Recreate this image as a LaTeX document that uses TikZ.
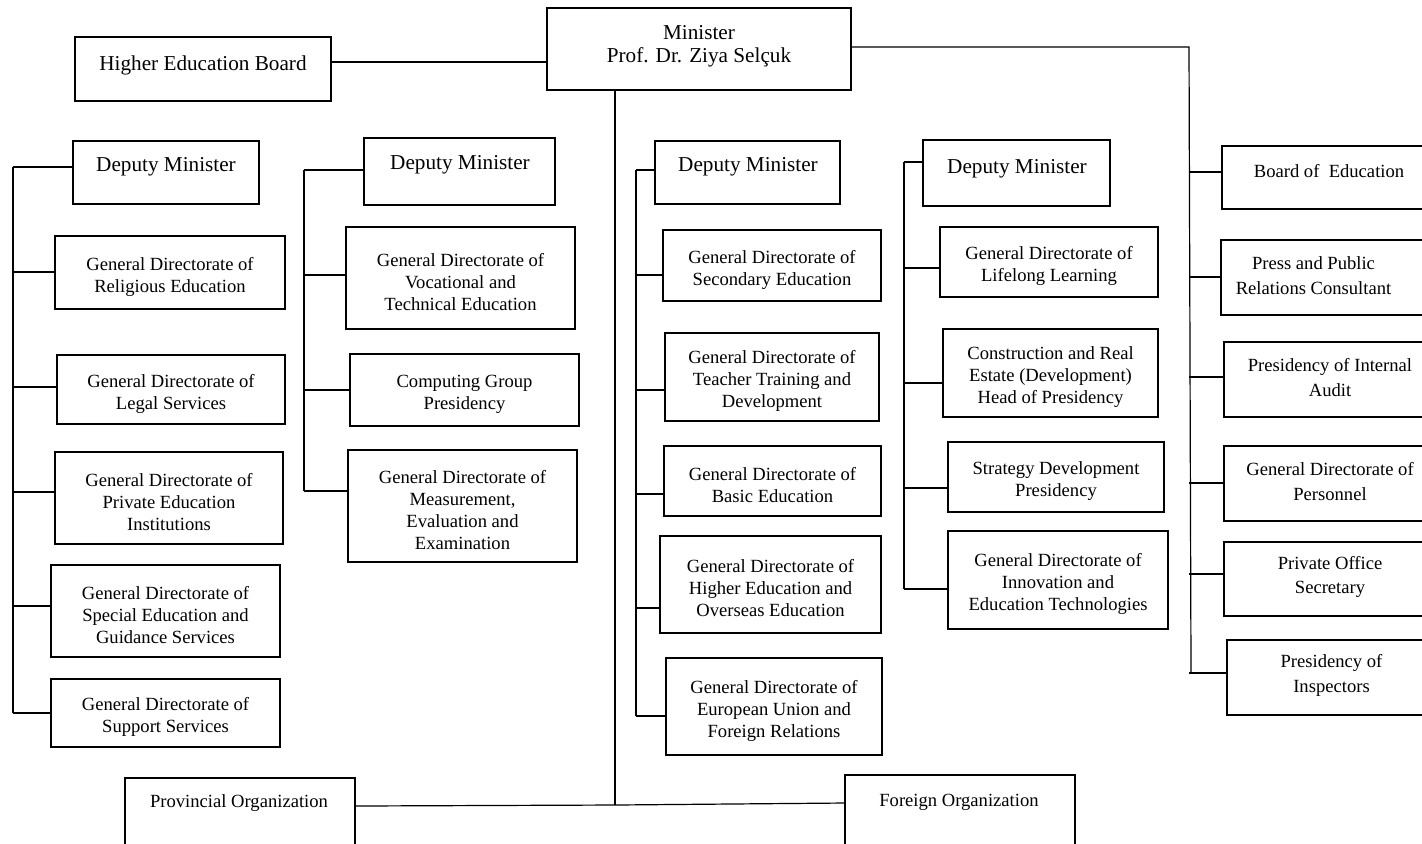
\documentclass[tikz,border=0pt]{standalone}
\usepackage{fontspec}
\setmainfont{Liberation Serif}
\usetikzlibrary{fit}
\newcommand{\gdfont}{\fontsize{9.3}{11}\selectfont}
\newcommand{\rtfont}{\fontsize{9.3}{12.2}\selectfont}
\newcommand{\dmfont}{\fontsize{10.6}{11.5}\selectfont}
\tikzset{
  orgbox/.style={draw, inner sep=0pt},
  boxtext/.style={inner sep=0pt, align=center, font=\gdfont},
  intext/.style={boxtext, yshift=-2pt},
  rttext/.style={boxtext, font=\rtfont, yshift=1pt},
}
\begin{document}
\begin{tikzpicture}[x=0.5pt,y=-0.5pt,line width=0.6pt]
    \clip (0,0) rectangle (1422,843);
    % top row
    \node[orgbox, fit={(547,8) (851,90)}] (min) {};
    \node[boxtext, font=\dmfont] (mint) at (699,46) {Minister\\Prof. Dr. Ziya Selçuk};
    \node[orgbox, fit={(75,37) (331,101)}] (heb) {};
    \node[boxtext, font=\dmfont] (hebt) at (203,65) {Higher Education Board};
    % first deputy minister
    \node[orgbox, fit={(73,141) (259,204)}] (dm1) {};
    \node[boxtext, font=\dmfont] (dm1t) at (166,167) {Deputy Minister};
    \node[orgbox, fit={(55,236) (285,309)}, label={[intext]center:{General Directorate of\\Religious Education}}] (relig) {};
    \node[orgbox, fit={(57,355) (285,424)}, label={[intext]center:{General Directorate of\\Legal Services}}] (legal) {};
    \node[orgbox, fit={(55,452) (283,544)}, label={[intext]center:{General Directorate of\\Private Education\\Institutions}}] (privinst) {};
    \node[orgbox, fit={(51,565) (280,657)}, label={[intext]center:{General Directorate of\\Special Education and\\Guidance Services}}] (special) {};
    \node[orgbox, fit={(51,679) (280,747)}, label={[intext]center:{General Directorate of\\Support Services}}] (support) {};
    % second deputy minister
    \node[orgbox, fit={(364,138) (555,205)}] (dm2) {};
    \node[boxtext, font=\dmfont] (dm2t) at (460,165) {Deputy Minister};
    \node[orgbox, fit={(346,227) (575,329)}, label={[intext]center:{General Directorate of\\Vocational and\\Technical Education}}] (voc) {};
    \node[orgbox, fit={(350,354) (579,426)}, label={[intext]center:{Computing Group\\Presidency}}] (comp) {};
    \node[orgbox, fit={(348,450) (577,562)}, label={[intext]center:{General Directorate of\\Measurement,\\Evaluation and\\Examination}}] (meas) {};
    % third deputy minister
    \node[orgbox, fit={(655,141) (840,204)}] (dm3) {};
    \node[boxtext, font=\dmfont] (dm3t) at (748,167) {Deputy Minister};
    \node[orgbox, fit={(663,230) (881,301)}, label={[intext]center:{General Directorate of\\Secondary Education}}] (second) {};
    \node[orgbox, fit={(665,333) (879,421)}, label={[intext]center:{General Directorate of\\Teacher Training and\\Development}}] (teach) {};
    \node[orgbox, fit={(664,446) (881,516)}, label={[intext]center:{General Directorate of\\Basic Education}}] (basic) {};
    \node[orgbox, fit={(660,536) (881,633)}, label={[intext]center:{General Directorate of\\Higher Education and\\Overseas Education}}] (higher) {};
    \node[orgbox, fit={(666,658) (882,755)}, label={[intext]center:{General Directorate of\\European Union and\\Foreign Relations}}] (eurel) {};
    % fourth deputy minister
    \node[orgbox, fit={(923,140) (1110,206)}] (dm4) {};
    \node[boxtext, font=\dmfont] (dm4t) at (1017,169) {Deputy Minister};
    \node[orgbox, fit={(940,227) (1158,297)}, label={[intext]center:{General Directorate of\\Lifelong Learning}}] (lifelong) {};
    \node[orgbox, fit={(943,329) (1158,417)}, label={[intext]center:{Construction and Real\\Estate (Development)\\Head of Presidency}}] (constr) {};
    \node[orgbox, fit={(948,442) (1164,512)}, label={[intext]center:{Strategy Development\\Presidency}}] (strat) {};
    \node[orgbox, fit={(948,531) (1168,629)}, label={[intext]center:{General Directorate of\\Innovation and\\Education Technologies}}] (innov) {};
    % units under the minister (right)
    \node[orgbox, fit={(1222,146) (1436,209)}] (board) {};
    \node[boxtext] (boardt) at (1329,171) {Board of\ \ Education};
    \node[orgbox, fit={(1221,240) (1436,315)}, label={[rttext, xshift=-7.5pt]center:{Press and Public\\Relations Consultant}}] (press) {};
    \node[orgbox, fit={(1224,342) (1436,417)}, label={[rttext]center:{Presidency of Internal\\Audit}}] (audit) {};
    \node[orgbox, fit={(1224,446) (1436,521)}, label={[rttext]center:{General Directorate of\\Personnel}}] (personnel) {};
    \node[orgbox, fit={(1224,542) (1436,616)}, label={[rttext]center:{Private Office\\Secretary}}] (office) {};
    \node[orgbox, fit={(1227,640) (1436,715)}, label={[rttext]center:{Presidency of\\Inspectors}}] (inspect) {};
    % bottom row
    \node[orgbox, fit={(125,778) (355,850)}] (prov) {};
    \node[boxtext] (provt) at (239,803) {Provincial Organization};
    \node[orgbox, fit={(845,775) (1075,850)}] (abroad) {};
    \node[boxtext] (abroadt) at (959,802) {Foreign Organization};

    % trunks
    \coordinate (c1a) at (13,167);   \coordinate (c1b) at (13,713);
    \coordinate (c2a) at (304,170);  \coordinate (c2b) at (304,491);
    \coordinate (c3a) at (636,170);  \coordinate (c3b) at (636,716);
    \coordinate (c4a) at (904,162);  \coordinate (c4b) at (904,589);
    \coordinate (c5a) at (1189,47);  \coordinate (c5b) at (1191,673);
    \coordinate (hub) at (615,805);
    \draw (c1a) -- (c1b);
    \draw (c2a) -- (c2b);
    \draw (c3a) -- (c3b);
    \draw (c4a) -- (c4b);
    \draw (min.east |- c5a) -- (c5a) -- (c5b);
    \draw (heb.east |- 0,62) -- (min.west |- 0,62);
    \draw (min.south -| hub) -- (hub);
    \draw (prov.east |- 0,806) -- (hub) -- (abroad.west |- 0,803);
    % branches
    \foreach \n/\y in {dm1/167,relig/272,legal/387,privinst/492,special/606,support/713}
        \draw (c1a |- 0,\y) -- (\n.west |- 0,\y);
    \foreach \n/\y in {dm2/170,voc/275,comp/390,meas/491}
        \draw (c2a |- 0,\y) -- (\n.west |- 0,\y);
    \foreach \n/\y in {dm3/170,second/275,teach/390,basic/494,higher/608,eurel/716}
        \draw (c3a |- 0,\y) -- (\n.west |- 0,\y);
    \foreach \n/\y in {dm4/162,lifelong/268,constr/383,strat/488,innov/589}
        \draw (c4a |- 0,\y) -- (\n.west |- 0,\y);
    \foreach \n/\y in {board/172,press/277,audit/377,personnel/483,office/574,inspect/673}
        \draw (c5a |- 0,\y) -- (\n.west |- 0,\y);
\end{tikzpicture}
\end{document}
